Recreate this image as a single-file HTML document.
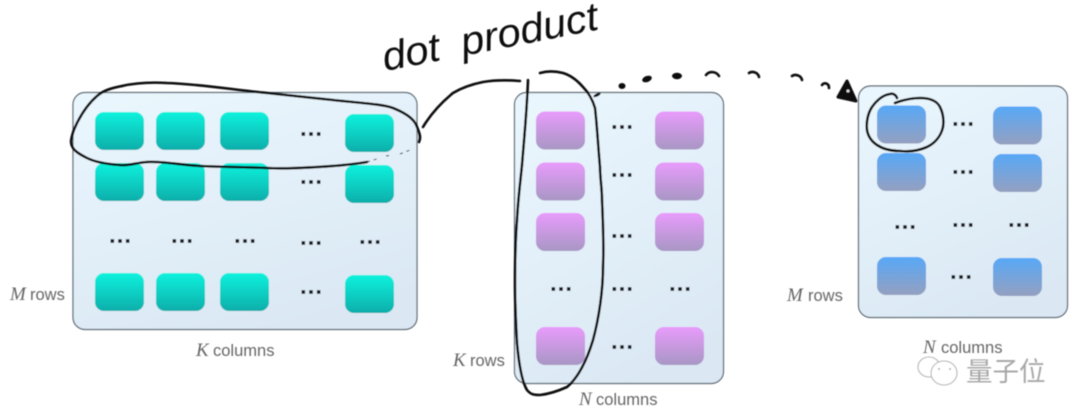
<!DOCTYPE html>
<html><head><meta charset="utf-8"><style>
html,body{margin:0;padding:0;background:#fff;width:1080px;height:418px;overflow:hidden}
svg{display:block}
text{font-family:"Liberation Sans","Noto Sans CJK SC",sans-serif}
.l{font-size:16.5px;fill:#666}
.m{font-family:"Liberation Serif",serif;font-style:italic;font-size:19px;fill:#666}
.p{fill:url(#pg);stroke:#56636e;stroke-width:1.2}
.h{fill:none;stroke:#0a0a0a;stroke-width:2.6;stroke-linecap:round;stroke-linejoin:round}
</style></head><body>
<svg width="1080" height="418" viewBox="0 0 1080 418" xmlns="http://www.w3.org/2000/svg">
<defs>
<linearGradient id="pg" x1="0.2" y1="0" x2="0.6" y2="1"><stop offset="0" stop-color="#e9f6fd"/><stop offset="1" stop-color="#dbe8f4"/></linearGradient>
<linearGradient id="t" x1="0" y1="0" x2="0" y2="1"><stop offset="0" stop-color="#12f2dd"/><stop offset="1" stop-color="#0aaeaa"/></linearGradient>
<linearGradient id="u" x1="0" y1="0" x2="0" y2="1"><stop offset="0" stop-color="#e89bfb"/><stop offset="1" stop-color="#a897c4"/></linearGradient>
<linearGradient id="b" x1="0" y1="0" x2="0" y2="1"><stop offset="0" stop-color="#57a8f7"/><stop offset="1" stop-color="#95a0c0"/></linearGradient>
<g id="d"><rect x="-9.5" y="-1.800" width="3.600" height="3.600"/><rect x="-1.800" y="-1.800" width="3.600" height="3.600"/><rect x="5.900" y="-1.800" width="3.600" height="3.600"/></g>
<rect id="c" width="49" height="38" rx="9"/>
<filter id="s" x="-5%" y="-5%" width="110%" height="110%"><feGaussianBlur stdDeviation="0.4"/></filter>
</defs>

<g filter="url(#s)">
<rect class="p" x="73" y="92.500" width="344" height="237" rx="12"/>
<rect class="p" x="514.500" y="92.500" width="209" height="291" rx="12"/>
<rect class="p" x="858.500" y="86" width="209" height="231.500" rx="12"/>

<g fill="url(#t)">
<use href="#c" x="95" y="112"/><use href="#c" x="156" y="112"/><use href="#c" x="220" y="112"/><use href="#c" x="345" y="114"/>
<use href="#c" x="95" y="163"/><use href="#c" x="156" y="163"/><use href="#c" x="220" y="163"/><use href="#c" x="345" y="165"/>
<use href="#c" x="95" y="273"/><use href="#c" x="156" y="273"/><use href="#c" x="220" y="273"/><use href="#c" x="345" y="275"/>
</g>
<g fill="url(#u)">
<use href="#c" x="536" y="111.500"/><use href="#c" x="655" y="111.500"/>
<use href="#c" x="536" y="162.500"/><use href="#c" x="655" y="162.500"/>
<use href="#c" x="536" y="213"/><use href="#c" x="655" y="213"/>
<use href="#c" x="536" y="327"/><use href="#c" x="655" y="327"/>
</g>
<g fill="url(#b)">
<use href="#c" x="877" y="105.500"/><use href="#c" x="993" y="106.500"/>
<use href="#c" x="877" y="153"/><use href="#c" x="993" y="154"/>
<use href="#c" x="877" y="257"/><use href="#c" x="993" y="258"/>
</g>

<g fill="#15181c">
<use href="#d" x="311" y="134"/><use href="#d" x="311" y="182"/><use href="#d" x="120" y="241"/><use href="#d" x="182" y="241"/><use href="#d" x="245" y="241"/><use href="#d" x="311" y="243"/><use href="#d" x="370" y="242"/><use href="#d" x="311" y="292"/>
<use href="#d" x="622" y="127"/><use href="#d" x="622" y="175"/><use href="#d" x="622" y="236"/><use href="#d" x="561" y="289"/><use href="#d" x="622" y="289"/><use href="#d" x="680" y="289"/><use href="#d" x="622" y="347"/>
<use href="#d" x="963" y="124"/><use href="#d" x="963" y="172"/><use href="#d" x="905" y="227"/><use href="#d" x="963" y="225"/><use href="#d" x="1019" y="225"/><use href="#d" x="961" y="277"/>
</g>

<text class="m" x="10" y="300">M</text><text class="l" x="30" y="300">rows</text>
<text class="m" x="196" y="356">K</text><text class="l" x="213" y="356">columns</text>
<text class="m" x="453" y="366">K</text><text class="l" x="470" y="366">rows</text>
<text class="m" x="579" y="405">N</text><text class="l" x="596" y="405">columns</text>
<text class="m" x="787" y="301">M</text><text class="l" x="808" y="301">rows</text>
<text class="m" x="923" y="353">N</text><text class="l" x="941" y="353">columns</text>

<!-- watermark -->
<g fill="#fff" stroke="#b5b5b5" stroke-width="1.1">
<ellipse cx="929" cy="367" rx="11" ry="10"/>
<ellipse cx="944" cy="373" rx="13" ry="12"/>
</g>
<circle cx="939" cy="369" r="1" fill="#aaa"/><circle cx="950" cy="369" r="1" fill="#aaa"/>
<text x="966" y="381" font-size="26.500" fill="#a8a8a8">量子位</text>

<!-- handwriting label -->
<text transform="translate(385 71) rotate(-11)" font-size="40" fill="#0a0a0a" style="font-style:italic;word-spacing:10px" textLength="219" lengthAdjust="spacingAndGlyphs">dot product</text>

<!-- row loop -->
<path class="h" d="M122 86C135 83 150 82 167 83C200 84 235 90 267 93C295 96 315 98 333 100C360 103 382 104 393 108C408 114 415 120 417 127C420 134 421 138 419 142"/>
<path class="h" d="M367 162C350 165 335 166 317 167C300 168 285 169 267 168C245 167 222 167 200 166C180 165 163 161 147 162C135 163 128 166 120 165C105 164 95 162 87 158C77 153 71 149 71 141C72 134 74 129 77 123C82 113 89 103 97 96C104 90 112 88 122 86"/>
<path d="M367 162L380 158M386 156L392 155M400 154L410 150" fill="none" stroke="#333" stroke-width="1" stroke-dasharray="3 4"/>
<!-- connector -->
<path class="h" d="M423 127C432 112 442 102 453 93C463 87 473 84 483 82C495 80 508 80 520 81"/>
<!-- column loop -->
<path class="h" d="M528 80C527 110 524 140 522 165C520 185 518 200 517 220C515 245 515 265 515 283C515 305 516 325 517 343C519 365 522 382 527 390C531 395 535 395 540 395C550 394 558 391 567 387C578 378 587 360 593 340C599 318 603 290 603 267C604 245 603 222 602 200C602 188 600 178 600 167C598 145 597 125 595 108C592 98 588 92 583 87C576 79 570 75 563 73C555 71 547 71 540 73"/>
<!-- dashed arrow -->
<g fill="#0a0a0a">
<ellipse cx="597" cy="95" rx="4" ry="1.500" transform="rotate(-25 597 95)"/>
<ellipse cx="622" cy="86" rx="3.500" ry="3"/>
<ellipse cx="647" cy="79" rx="5" ry="3" transform="rotate(-20 647 79)"/>
<ellipse cx="677" cy="76" rx="5" ry="3.200"/>
</g>
<path class="h" d="M706 75C709 71 716 71 719 76"/>
<path class="h" d="M749 73C752 71 758 72 759 77"/>
<path class="h" d="M792 76C795 74 801 75 802 80"/>
<path class="h" d="M822 85C824 82 829 83 829 88"/>
<path d="M847 81L838 97L856 101Z" fill="#0a0a0a" stroke="#0a0a0a" stroke-width="3" stroke-linejoin="round"/>
<circle cx="848" cy="91" r="1.500" fill="#ddd"/>
<!-- right circle -->
<path class="h" d="M895 103C903 100 912 98 920 98C930 98 937 101 940 107C943 113 944 120 943 127C941 136 935 143 927 147C918 151 909 152 900 151C890 151 883 149 877 145C871 141 868 136 867 130C866 122 868 113 872 107C877 100 883 95 890 94C893 93 896 95 897 98"/>
</g>
</svg>
</body></html>
